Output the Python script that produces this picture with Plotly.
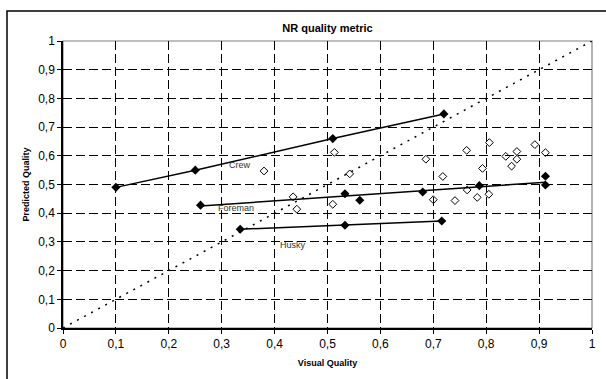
import plotly.graph_objects as go

# Data
crew_x = [0.10, 0.25, 0.51, 0.72]
crew_y = [0.49, 0.55, 0.66, 0.746]

foreman_x = [0.26, 0.533, 0.561, 0.68, 0.787, 0.912, 0.912]
foreman_y = [0.428, 0.468, 0.445, 0.474, 0.496, 0.498, 0.529]
foreman_trend_x = [0.26, 0.912]
foreman_trend_y = [0.425, 0.508]

husky_x = [0.335, 0.533, 0.716]
husky_y = [0.344, 0.358, 0.373]

other_x = [0.38, 0.435, 0.442, 0.51, 0.513, 0.542, 0.686, 0.70, 0.718, 0.741,
           0.763, 0.764, 0.783, 0.793, 0.805, 0.806, 0.837, 0.848, 0.858, 0.858,
           0.892, 0.912]
other_y = [0.547, 0.457, 0.414, 0.431, 0.612, 0.537, 0.588, 0.447, 0.528, 0.444,
           0.619, 0.481, 0.455, 0.556, 0.466, 0.646, 0.598, 0.564, 0.615, 0.588,
           0.639, 0.611]

diag = [0, 1]

labels = ["Crew", "Foreman", "Husky"]
label_x = [0.335, 0.327, 0.435]
label_y = [0.569, 0.417, 0.290]

ticks = [i / 10 for i in range(11)]
tick_text = ["0", "0,1", "0,2", "0,3", "0,4", "0,5", "0,6", "0,7", "0,8", "0,9", "1"]

FONT = "Liberation Sans, Arial, sans-serif"

fig = go.Figure()
fig.add_trace(go.Scatter(x=diag, y=diag, mode="lines",
                         line=dict(color="black", width=1.5, dash="2px,6px"),
                         hoverinfo="skip"))
fig.add_trace(go.Scatter(x=other_x, y=other_y, mode="markers",
                         marker=dict(symbol="diamond-open", size=6, color="black",
                                     line=dict(width=1))))
fig.add_trace(go.Scatter(x=crew_x, y=crew_y, mode="lines+markers",
                         line=dict(color="black", width=1.5),
                         marker=dict(symbol="diamond", size=7, color="black")))
fig.add_trace(go.Scatter(x=foreman_trend_x, y=foreman_trend_y, mode="lines",
                         line=dict(color="black", width=1.5)))
fig.add_trace(go.Scatter(x=foreman_x, y=foreman_y, mode="markers",
                         marker=dict(symbol="diamond", size=7, color="black")))
fig.add_trace(go.Scatter(x=husky_x, y=husky_y, mode="lines+markers",
                         line=dict(color="black", width=1.5),
                         marker=dict(symbol="diamond", size=7, color="black")))

for t, lx, ly in zip(labels, label_x, label_y):
    fig.add_annotation(x=lx, y=ly, text=t, showarrow=False,
                       font=dict(family=FONT, size=9, color="#333333"))

axis_common = dict(
    range=[0, 1], tickvals=ticks, ticktext=tick_text, automargin=False,
    showgrid=True, gridcolor="black", gridwidth=1, griddash="9px,4px",
    zeroline=False, showline=True, linecolor="black", linewidth=1.5,
    ticks="outside", ticklen=4, tickcolor="black",
    tickfont=dict(family=FONT, size=12, color="black"),
)

fig.update_layout(
    width=606, height=379,
    margin=dict(l=63, r=14, t=41, b=51, autoexpand=False),
    paper_bgcolor="white", plot_bgcolor="white",
    showlegend=False,
    title=dict(text="<b>NR quality metric</b>", x=0.5, xref="paper", xanchor="center",
               y=1 - 28 / 379, yanchor="middle", automargin=False,
               font=dict(family=FONT, size=11, color="black")),
    xaxis=dict(axis_common, title=dict(text="<b>Visual Quality</b>", standoff=10,
                                       font=dict(family=FONT, size=9, color="black"))),
    yaxis=dict(axis_common, title=dict(text="<b>Predicted Quality</b>", standoff=7,
                                       font=dict(family=FONT, size=9, color="black"))),
    shapes=[
        dict(type="rect", xref="x domain", yref="y domain", x0=0, y0=0, x1=1, y1=1,
             line=dict(color="#808080", width=1.2), layer="below"),
        dict(type="rect", xref="paper", yref="paper",
             x0=-56 / 529, y0=-60 / 288, x1=1.05, y1=1 + 30 / 288,
             line=dict(color="black", width=1.5)),
    ],
)

fig.write_html("out.html", config={"displayModeBar": False},
               post_script="document.body.style.margin='0';document.body.style.overflow='hidden';")
